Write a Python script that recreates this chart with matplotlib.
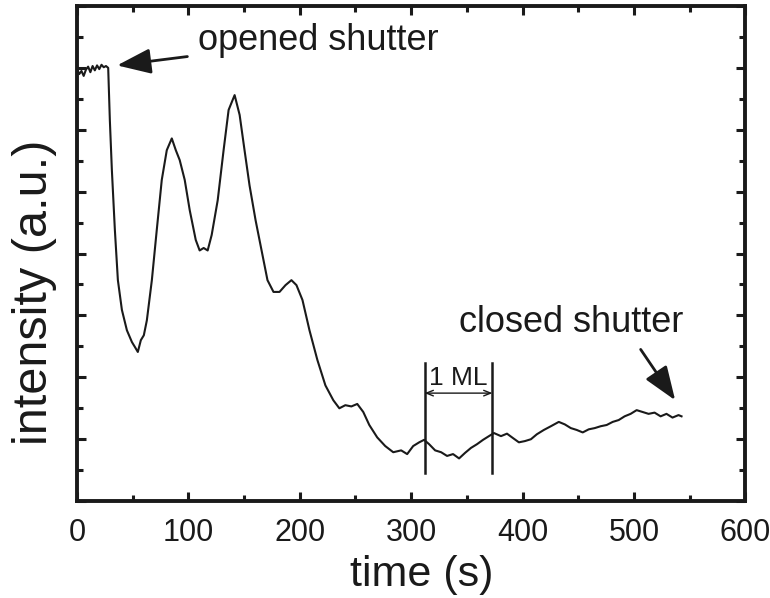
import matplotlib.pyplot as plt
import numpy as np
from matplotlib.ticker import MultipleLocator, NullFormatter

plt.rcParams['font.family'] = ['Liberation Sans', 'DejaVu Sans']

# RHEED intensity trace
time_s = [0, 2, 4, 6, 8, 10, 12, 14, 16, 18, 20, 22, 24, 26, 28,
          29.5, 31.3, 34, 36.7, 40.3, 44.8, 49.3, 52, 54.6, 57.3, 60, 62.7,
          67.2, 71.6, 76.1, 80.6, 85.1, 88.7, 92.2, 96.7, 101.2, 106.6,
          110.1, 113.7, 117.3, 120.9, 126.3, 131.6, 136.1, 141.5, 146,
          150.4, 154.9, 160.3, 165.7, 171, 176.4, 181.8, 187.2, 192.5, 197,
          202.4, 208.7, 215.8, 223, 230.1, 235.5, 240.9, 246.3, 251.6, 257,
          262.4, 269.5, 276.7, 283.9, 291, 296.4, 301.8, 307.2, 311.6, 316.1,
          321.5, 326.9, 332.2, 337.6, 343, 348.4, 353.7, 359.1, 364.5, 369.8,
          374.3, 380.6, 386, 391.3, 396.7, 402.1, 407.5, 412.8, 419.1, 425.4,
          432.5, 437.9, 443.3, 448.6, 454, 459.4, 464.8, 470.1, 475.5, 480.9,
          486.3, 491.6, 497, 502.4, 507.8, 513.1, 518.5, 523.9, 529.2, 534.6,
          540, 542.7]
intensity = [6.98, 6.90, 6.95, 6.87, 6.97, 7.02, 6.93, 7.03, 6.96, 7.04, 6.98, 7.05, 7.01, 7.03, 7.00,
             6.15, 5.35, 4.38, 3.57, 3.09, 2.76, 2.57, 2.49, 2.41, 2.60, 2.68, 2.92,
             3.57, 4.38, 5.19, 5.67, 5.86, 5.67, 5.51, 5.19, 4.70, 4.22,
             4.05, 4.09, 4.05, 4.30, 4.86, 5.67, 6.32, 6.56, 6.24,
             5.67, 5.10, 4.54, 4.05, 3.57, 3.38, 3.38, 3.49, 3.57, 3.49,
             3.25, 2.76, 2.28, 1.87, 1.63, 1.50, 1.55, 1.53, 1.57, 1.44,
             1.23, 1.03, 0.89, 0.79, 0.82, 0.76, 0.89, 0.95, 0.99, 0.92,
             0.82, 0.79, 0.73, 0.76, 0.69, 0.78, 0.86, 0.92, 0.99, 1.05,
             1.10, 1.05, 1.09, 1.02, 0.95, 0.97, 1.00, 1.08, 1.15, 1.21,
             1.28, 1.24, 1.18, 1.15, 1.11, 1.16, 1.18, 1.21, 1.23, 1.28,
             1.31, 1.37, 1.41, 1.47, 1.44, 1.41, 1.43, 1.37, 1.41, 1.35,
             1.39, 1.37]

ml_start, ml_end = 312, 373

ink = '#1a1a1a'
fig = plt.figure(figsize=(7.7, 5.98), dpi=100)
ax = fig.add_axes([0.1, 0.162, 0.868, 0.828])

ax.plot(time_s, intensity, color=ink, lw=1.5)

# 1 ML marker
for t in (ml_start, ml_end):
    ax.plot([t, t], [0.45, 2.23], color=ink, lw=1.8)
ax.annotate('', xy=(ml_start, 1.745), xytext=(ml_end, 1.745),
            arrowprops=dict(arrowstyle='<->,head_length=0.5,head_width=0.2', color=ink, lw=1,
                            shrinkA=0, shrinkB=0))
ax.text((ml_start + ml_end) / 2, 1.87, '1 ML', ha='center', va='baseline', fontsize=19, color=ink)

arrow = dict(arrowstyle='-|>,head_length=0.8,head_width=0.3', color=ink, lw=2)
ax.annotate('opened shutter', xy=(36, 7.04), xytext=(109, 7.45),
            fontsize=26, color=ink, va='center',
            arrowprops=dict(arrow, shrinkA=6, shrinkB=0))
ax.annotate('closed shutter', xy=(537, 1.63), xytext=(343, 2.89),
            fontsize=26, color=ink, va='center',
            arrowprops=dict(arrow, shrinkA=6, shrinkB=0, relpos=(0.78, 0.0)))

ax.set_xlim(0, 600)
ax.set_ylim(0, 8)
ax.xaxis.set_major_locator(MultipleLocator(100))
ax.xaxis.set_minor_locator(MultipleLocator(50))
ax.yaxis.set_major_locator(MultipleLocator(1))
ax.yaxis.set_minor_locator(MultipleLocator(0.5))
ax.yaxis.set_major_formatter(NullFormatter())
ax.tick_params(which='both', direction='in', top=True, right=True, width=2.2, colors=ink)
ax.tick_params(which='major', length=6.5, labelsize=22, pad=12)
ax.tick_params(which='minor', length=4)
for s in ax.spines.values():
    s.set_linewidth(2.8)
    s.set_color(ink)

ax.set_xlabel('time (s)', fontsize=31, color=ink, va='top')
ax.xaxis.set_label_coords(0.515, -0.108)
ax.set_ylabel('intensity (a.u.)', fontsize=35, color=ink)
ax.yaxis.set_label_coords(-0.03, 0.422)

fig.savefig('out.png', dpi=100)
